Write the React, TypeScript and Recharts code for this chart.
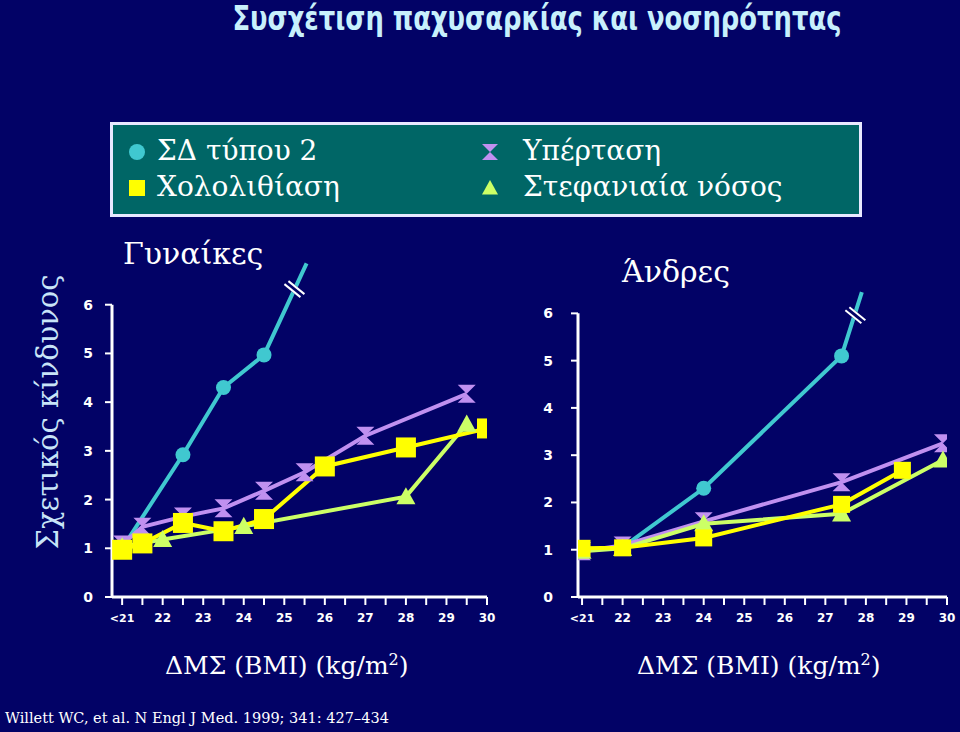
import React from 'react';
import { LineChart, Line, XAxis, YAxis, ReferenceLine, ReferenceDot } from 'recharts';

// BMI axis: half-unit tick marks, labels on whole units only
const BMI_TICKS = [21, 21.5, 22, 22.5, 23, 23.5, 24, 24.5, 25, 25.5, 26, 26.5, 27, 27.5, 28, 28.5, 29, 29.5, 30];
const RR_TICKS = [0, 1, 2, 3, 4, 5, 6];

// Women (relative risk vs BMI)
const womenDiabetes = [
    { bmi: 21, rr: 1.0 },
    { bmi: 22.5, rr: 2.92 },
    { bmi: 23.5, rr: 4.3 },
    { bmi: 24.5, rr: 4.97 },
    { bmi: 25.55, rr: 6.85 },
];
const womenHypertension = [
    { bmi: 21, rr: 1.08 },
    { bmi: 21.5, rr: 1.44 },
    { bmi: 22.5, rr: 1.65 },
    { bmi: 23.5, rr: 1.82 },
    { bmi: 24.5, rr: 2.18 },
    { bmi: 25.5, rr: 2.56 },
    { bmi: 27, rr: 3.31 },
    { bmi: 29.5, rr: 4.17 },
];
const womenGallstones = [
    { bmi: 21, rr: 0.97 },
    { bmi: 21.5, rr: 1.1 },
    { bmi: 22.5, rr: 1.52 },
    { bmi: 23.5, rr: 1.35 },
    { bmi: 24.5, rr: 1.6 },
    { bmi: 26, rr: 2.68 },
    { bmi: 28, rr: 3.07 },
    { bmi: 30, rr: 3.46 },
];
const womenCHD = [
    { bmi: 21, rr: 1.03 },
    { bmi: 22, rr: 1.18 },
    { bmi: 24, rr: 1.45 },
    { bmi: 28, rr: 2.06 },
    { bmi: 29.5, rr: 3.55 },
];

// Men
const menDiabetes = [
    { bmi: 21, rr: 1.0 },
    { bmi: 22, rr: 1.05 },
    { bmi: 24, rr: 2.3 },
    { bmi: 27.4, rr: 5.1 },
    { bmi: 27.9, rr: 6.45 },
];
const menHypertension = [
    { bmi: 21, rr: 0.97 },
    { bmi: 22, rr: 1.09 },
    { bmi: 24, rr: 1.6 },
    { bmi: 27.4, rr: 2.43 },
    { bmi: 29.9, rr: 3.25 },
];
const menGallstones = [
    { bmi: 21, rr: 1.03 },
    { bmi: 22, rr: 1.04 },
    { bmi: 24, rr: 1.25 },
    { bmi: 27.4, rr: 1.96 },
    { bmi: 28.9, rr: 2.68 },
];
const menCHD = [
    { bmi: 21, rr: 0.97 },
    { bmi: 22, rr: 1.03 },
    { bmi: 24, rr: 1.55 },
    { bmi: 27.4, rr: 1.76 },
    { bmi: 29.9, rr: 2.9 },
];

const BG = '#020266';
const CYAN = '#40c8d0';
const YELLOW = '#ffff00';
const PURPLE = '#c090f0';
const GREEN = '#ccff66';
const SERIF = '"DejaVu Serif", "Liberation Serif", serif';
const SANS = '"DejaVu Sans", "Liberation Sans", sans-serif';

const circleShape = (cx: number, cy: number, color: string, s = 14) => <circle cx={cx} cy={cy} r={s / 2} fill={color} />;
const squareShape = (cx: number, cy: number, color: string, s = 16) => (
    <rect x={cx - s / 2} y={cy - s / 2} width={s} height={s} fill={color} />
);
const hourglassShape = (cx: number, cy: number, color: string, s = 16) => {
    const h = s / 2;
    return (
        <path d={`M${cx - h},${cy - h} L${cx + h},${cy - h} L${cx},${cy} L${cx + h},${cy + h} L${cx - h},${cy + h} L${cx},${cy} Z`} fill={color} />
    );
};
const triangleShape = (cx: number, cy: number, color: string, s = 18) => {
    const h = s / 2;
    return <path d={`M${cx},${cy - h} L${cx + h},${cy + h * 0.8} L${cx - h},${cy + h * 0.8} Z`} fill={color} />;
};

// skip marker on chosen indexes (line continuation past the break)
const makeDot = (shape: (cx: number, cy: number, c: string, s?: number) => React.ReactElement, color: string, size: number, skip: number[]) =>
    (props: any) => {
        const { cx, cy, index } = props;
        if (skip.includes(index) || cx == null || cy == null) return <g key={`d-${index}`} />;
        return <g key={`d-${index}`}>{shape(cx, cy, color, size)}</g>;
    };

const BreakMark = (props: any) => {
    const { cx, cy } = props;
    return (
        <g>
            <line x1={cx - 9} y1={cy - 7} x2={cx + 9} y2={cy + 7} stroke={BG} strokeWidth={7} />
            <line x1={cx - 10} y1={cy - 5} x2={cx + 6} y2={cy + 8} stroke="#ffffff" strokeWidth={2} />
            <line x1={cx - 6} y1={cy - 8} x2={cx + 10} y2={cy + 5} stroke="#ffffff" strokeWidth={2} />
        </g>
    );
};

const BmiTick = (props: any) => {
    const { x, y, payload } = props;
    const v = payload.value;
    if (v % 1 !== 0) return <g />;
    return (
        <text x={x} y={y + 15} textAnchor="middle" fill="#ffffff" fontFamily={SANS} fontWeight="bold" fontSize={v === 21 ? 11 : 12}>
            {v === 21 ? '<21' : v}
        </text>
    );
};

interface PanelProps {
    left: number;
    top: number;
    width: number;
    height: number;
    xMin: number;
    yMax: number;
    tickMargin: number;
    squareSize: number;
    diabetes: typeof womenDiabetes;
    hypertension: typeof womenDiabetes;
    gallstones: typeof womenDiabetes;
    chd: typeof womenDiabetes;
    breakAt: { x: number; y: number };
}

function Panel({ left, top, width, height, xMin, yMax, tickMargin, squareSize, diabetes, hypertension, gallstones, chd, breakAt }: PanelProps) {
    return (
        <div style={{ position: 'absolute', left, top }}>
            <LineChart width={width} height={height} margin={{ top: 16, right: 10, left: 0, bottom: 0 }}>
                <XAxis
                    type="number"
                    dataKey="bmi"
                    domain={[xMin, 30]}
                    ticks={BMI_TICKS}
                    interval={0}
                    allowDataOverflow
                    height={30}
                    axisLine={{ stroke: '#ffffff', strokeWidth: 3 }}
                    tickLine={{ stroke: '#ffffff', strokeWidth: 2 }}
                    tickSize={8}
                    tick={<BmiTick />}
                />
                <YAxis
                    type="number"
                    dataKey="rr"
                    domain={[0, yMax]}
                    ticks={RR_TICKS}
                    interval={0}
                    allowDataOverflow
                    width={52}
                    axisLine={false}
                    tickLine={{ stroke: '#ffffff', strokeWidth: 2 }}
                    tickSize={7}
                    tickMargin={tickMargin}
                    tick={{ fill: '#ffffff', fontFamily: SANS, fontWeight: 'bold', fontSize: 14 }}
                />
                <ReferenceLine
                    segment={[{ x: xMin, y: 0 }, { x: xMin, y: 6 }]}
                    stroke="#ffffff"
                    strokeWidth={3}
                    ifOverflow="visible"
                />
                <Line data={diabetes} dataKey="rr" stroke={CYAN} strokeWidth={4} isAnimationActive={false}
                    dot={makeDot(circleShape, CYAN, 15, [0, diabetes.length - 1])} />
                <ReferenceDot x={breakAt.x} y={breakAt.y} r={0} ifOverflow="visible" shape={<BreakMark />} />
                <Line data={hypertension} dataKey="rr" stroke={PURPLE} strokeWidth={4} isAnimationActive={false}
                    dot={makeDot(hourglassShape, PURPLE, 18, [])} />
                <Line data={chd} dataKey="rr" stroke={GREEN} strokeWidth={4} isAnimationActive={false}
                    dot={makeDot(triangleShape, GREEN, 19, [])} />
                <Line data={gallstones} dataKey="rr" stroke={YELLOW} strokeWidth={4} isAnimationActive={false}
                    dot={makeDot(squareShape, YELLOW, squareSize, [])} />
            </LineChart>
        </div>
    );
}

function LegendMarker({ kind, color }: { kind: string; color: string }) {
    const shapes: Record<string, any> = { circle: circleShape, square: squareShape, hourglass: hourglassShape, triangle: triangleShape };
    return (
        <svg width={20} height={20} style={{ position: 'absolute', left: -10, top: -10 }}>
            {shapes[kind](10, 10, color, 16)}
        </svg>
    );
}

const legendItems = [
    { label: 'ΣΔ τύπου 2', kind: 'circle', color: CYAN, mx: 24, tx: 44, y: 27 },
    { label: 'Χολολιθίαση', kind: 'square', color: YELLOW, mx: 24, tx: 44, y: 63 },
    { label: 'Υπέρταση', kind: 'hourglass', color: PURPLE, mx: 377, tx: 410, y: 27 },
    { label: 'Στεφανιαία νόσος', kind: 'triangle', color: GREEN, mx: 377, tx: 410, y: 63 },
];

export default function App() {
    return (
        <div style={{ position: 'absolute', left: 0, top: 0, width: 960, height: 732, background: BG, overflow: 'hidden' }}>
            <div style={{ position: 'absolute', left: 0, width: 1074, top: -1, textAlign: 'center', fontFamily: '"DejaVu Sans Condensed", "DejaVu Sans", sans-serif', fontWeight: 'bold', fontSize: 33, color: '#c8f0fc', lineHeight: '40px', transform: 'scaleX(0.87)', transformOrigin: '537px 0' }}>
                Συσχέτιση παχυσαρκίας και νοσηρότητας
            </div>

            <div style={{ position: 'absolute', left: 110, top: 122, width: 746, height: 89, background: '#006666', border: '3px solid #e8e8ff' }}>
                {legendItems.map((it) => (
                    <React.Fragment key={it.label}>
                        <div style={{ position: 'absolute', left: it.mx, top: it.y }}>
                            <LegendMarker kind={it.kind} color={it.color} />
                        </div>
                        <div style={{ position: 'absolute', left: it.tx, top: it.y - 19, fontFamily: SERIF, fontSize: 28, color: '#ffffff', lineHeight: '36px', whiteSpace: 'nowrap' }}>
                            {it.label}
                        </div>
                    </React.Fragment>
                ))}
            </div>

            <div style={{ position: 'absolute', left: 48, top: 412, transform: 'translate(-50%, -50%) rotate(-90deg)', fontFamily: SERIF, fontSize: 29, color: '#c8e4f8', whiteSpace: 'nowrap' }}>
                Σχετικός κίνδυνος
            </div>

            <div style={{ position: 'absolute', left: 123, top: 234, fontFamily: SERIF, fontSize: 30, color: '#ffffff', lineHeight: '40px' }}>Γυναίκες</div>
            <div style={{ position: 'absolute', left: 622, top: 252, fontFamily: SERIF, fontSize: 30, color: '#ffffff', lineHeight: '40px' }}>Άνδρες</div>

            <Panel left={60} top={240} width={437} height={387} xMin={20.75} yMax={7} tickMargin={12} squareSize={20}
                diabetes={womenDiabetes} hypertension={womenHypertension} gallstones={womenGallstones} chd={womenCHD}
                breakAt={{ x: 25.25, y: 6.32 }} />
            <Panel left={526} top={269} width={431} height={358} xMin={20.9} yMax={6.6} tickMargin={18} squareSize={17}
                diabetes={menDiabetes} hypertension={menHypertension} gallstones={menGallstones} chd={menCHD}
                breakAt={{ x: 27.74, y: 5.96 }} />

            <div style={{ position: 'absolute', left: 165, top: 642, fontFamily: SERIF, fontSize: 25, color: '#ffffff', lineHeight: '36px', whiteSpace: 'nowrap' }}>
                ΔΜΣ (BMI) (kg/m<sup style={{ fontSize: 16 }}>2</sup>)
            </div>
            <div style={{ position: 'absolute', left: 637, top: 642, fontFamily: SERIF, fontSize: 25, color: '#ffffff', lineHeight: '36px', whiteSpace: 'nowrap' }}>
                ΔΜΣ (BMI) (kg/m<sup style={{ fontSize: 16 }}>2</sup>)
            </div>

            <div style={{ position: 'absolute', left: 5, top: 706, fontFamily: SERIF, fontSize: 14.5, color: '#ffffff', lineHeight: '24px', whiteSpace: 'nowrap' }}>
                Willett WC, et al. N Engl J Med. 1999; 341: 427–434
            </div>
        </div>
    );
}
